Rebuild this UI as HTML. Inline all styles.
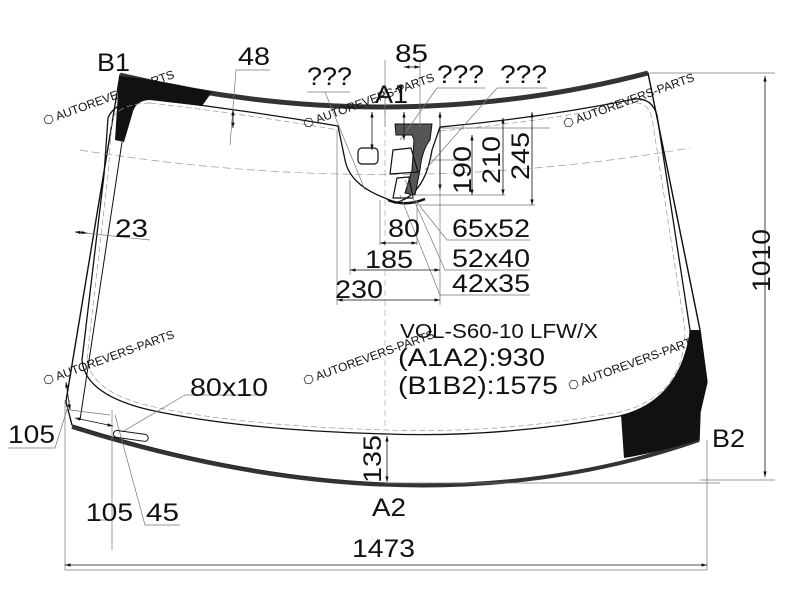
<!DOCTYPE html>
<html><head><meta charset="utf-8"><style>
html,body{margin:0;padding:0;background:#fff}
svg{display:block}
text{font-family:"Liberation Sans",sans-serif;fill:#111}
.w{fill:#8cc8ea;font-size:12px}
</style></head><body>
<svg width="800" height="600" viewBox="0 0 800 600" xmlns="http://www.w3.org/2000/svg">
<defs>
<marker id="a" viewBox="0 0 10 10" refX="10" refY="5" markerWidth="7" markerHeight="7" orient="auto-start-reverse"><path d="M0,2 L10,5 L0,8z" fill="#111"/></marker>
</defs>
<g fill="none" stroke="#111">
<path d="M120,75 Q390,140 648,73 L700,330 L707,382 L700,412 L699,440 Q420,535 72,425 L66,402 L67,395 Z" stroke-width="1.4"/>
<path d="M120,75 Q390,140 648,73" stroke="#333" stroke-width="5"/>
<path d="M72,427 Q420,537 699,440" stroke="#333" stroke-width="4"/>
<path d="M119,76 Q160,80 212,92 L202,106 L150,100 Q135,100 132,115 L124,142 L115,140 Z" fill="#111" stroke="none"/>
<path d="M690,330 L700,330 L707,382 L700,412 L699,440 Q660,452 624,458 L621,415 Q680,400 690,330 Z" fill="#111" stroke="none"/>
<path d="M150,99 Q245,110 338,126 L345,160 Q350,185 385,198 L395,203 Q425,195 432,150 L440,127 Q540,118 635,99 Q652,98 657,115 L690,330 Q690,400 620,416 Q500,438 387,434 Q240,430 150,410 Q85,395 82,360 L104,175 L108,118 Q115,100 150,99 Z" stroke-width="1.3"/>
<path d="M150,103 Q245,114 338,130 M440,131 Q540,122 635,103 Q648,102 652,118 L685,330 Q685,396 620,412 Q500,434 387,430 Q240,426 150,406 Q90,392 87,358 L108,175 L112,120 Q118,104 150,103" stroke="#999" stroke-width="0.7" stroke-dasharray="6,3"/>
<path d="M80,150 Q390,200 690,148" stroke="#999" stroke-width="0.7" stroke-dasharray="8,4"/>
<path d="M385,100 L385,430" stroke="#aaa" stroke-width="0.7" stroke-dasharray="6,4"/>
<path d="M122,142 L80,420" stroke-width="1"/>
<path d="M395,124 L432,124 L430,140 Q422,150 420,170 L415,195 L405,193 L412,170 L414,140 L412,135 L396,135 Z" fill="#555" stroke-width="1"/>
<rect x="358" y="148" width="20" height="16" rx="4" stroke-width="1.2"/>
<path d="M393,150 L411,148 L418,172 L390,174 Z" stroke-width="1.2" stroke-linejoin="round"/>
<path d="M397,178 L409,177 L413,198 L393,198 Z" stroke-width="1.2" stroke-linejoin="round"/>
<path d="M388,200 Q405,207 425,199" stroke-width="2.5"/>
<path d="M648,73 L700,330" stroke-width="1"/>
<g stroke="#777" stroke-width="0.7">
<path d="M65,400 L65,570 M707,440 L707,570 M650,73 L775,73 M700,480 L775,480"/>
<path d="M236,70 L270,70 M236,70 L230,145"/>
<path d="M307,92 L350,92 M325,92 L365,190"/>
<path d="M437,88 L485,88 M437,88 L400,140"/>
<path d="M497,88 L547,88 M497,88 L425,170"/>
<path d="M385,60 L385,127 M420,60 L420,127"/>
<path d="M440,128 L550,128 M430,160 L470,160 M420,205 L535,205 M415,195 L505,195"/>
<path d="M415,200 L447,240 L530,240 M405,180 L445,270 L530,270 M400,195 L440,295 L530,295"/>
<path d="M380,200 L380,245 M417,200 L417,245"/>
<path d="M350,180 L350,275 M440,130 L440,305 M337,130 L337,305"/>
<path d="M75,232 L150,240"/>
<path d="M8,448 L55,448 L70,400"/>
<path d="M70,410 L110,415 M112,410 L112,550 M87,520 L112,520"/>
<path d="M115,415 L145,525 L180,525 M185,395 L265,395 M185,395 L122,432"/>
<path d="M385,483 L720,483"/>
<path d="M65,570 L707,570"/>
</g>
<g stroke="#111" stroke-width="0.8" marker-start="url(#a)" marker-end="url(#a)">
<path d="M65,565 L707,565"/>
<path d="M765,76 L765,477"/>
<path d="M387,436 L387,482"/>
<path d="M350,270 L440,270"/>
<path d="M337,300 L440,300"/>
<path d="M380,243 L417,243"/>
<path d="M404,67 L420,67"/>
<path d="M372,112 L372,150"/>
<path d="M404,112 L404,140"/>
<path d="M440,112 L440,190"/>
<path d="M472,135 L472,195"/>
<path d="M503,118 L503,195"/>
<path d="M532,112 L532,205"/>
<path d="M233,110 L233,128"/>
<path d="M75,232 L87,233"/>
<path d="M66,382 L70,410"/>
<path d="M75,418 L113,426"/>
</g>
<rect x="114" y="430" width="35" height="7" rx="3.5" transform="rotate(8 114 430)" stroke-width="1"/>
</g>
<g class="w">
<text transform="translate(45,125) rotate(-20)">⬡ AUTOREVERS-PARTS</text>
<text transform="translate(305,128) rotate(-20)">⬡ AUTOREVERS-PARTS</text>
<text transform="translate(565,128) rotate(-20)">⬡ AUTOREVERS-PARTS</text>
<text transform="translate(45,385) rotate(-20)">⬡ AUTOREVERS-PARTS</text>
<text transform="translate(305,385) rotate(-20)">⬡ AUTOREVERS-PARTS</text>
<text transform="translate(570,390) rotate(-20)">⬡ AUTOREVERS-PARTS</text>
</g>
<g font-size="25" lengthAdjust="spacingAndGlyphs">
<text x="97" y="71" textLength="33" lengthAdjust="spacingAndGlyphs">B1</text>
<text x="238" y="65" textLength="32" lengthAdjust="spacingAndGlyphs">48</text>
<text x="307" y="85" textLength="45" lengthAdjust="spacingAndGlyphs">???</text>
<text x="395" y="62" textLength="33" lengthAdjust="spacingAndGlyphs">85</text>
<text x="375" y="103" textLength="33" lengthAdjust="spacingAndGlyphs">A1</text>
<text x="437" y="83" textLength="47" lengthAdjust="spacingAndGlyphs">???</text>
<text x="500" y="83" textLength="47" lengthAdjust="spacingAndGlyphs">???</text>
<text x="115" y="237" textLength="33" lengthAdjust="spacingAndGlyphs">23</text>
<text x="388" y="237" textLength="32" lengthAdjust="spacingAndGlyphs">80</text>
<text x="452" y="237" textLength="78" lengthAdjust="spacingAndGlyphs">65x52</text>
<text x="365" y="268" textLength="48" lengthAdjust="spacingAndGlyphs">185</text>
<text x="452" y="267" textLength="78" lengthAdjust="spacingAndGlyphs">52x40</text>
<text x="335" y="298" textLength="48" lengthAdjust="spacingAndGlyphs">230</text>
<text x="452" y="292" textLength="78" lengthAdjust="spacingAndGlyphs">42x35</text>
<text x="398" y="366" textLength="147" lengthAdjust="spacingAndGlyphs">(A1A2):930</text>
<text x="398" y="394" textLength="160" lengthAdjust="spacingAndGlyphs">(B1B2):1575</text>
<text x="190" y="396" textLength="78" lengthAdjust="spacingAndGlyphs">80x10</text>
<text x="8" y="443" textLength="47" lengthAdjust="spacingAndGlyphs">105</text>
<text x="712" y="447" textLength="33" lengthAdjust="spacingAndGlyphs">B2</text>
<text x="372" y="516" textLength="34" lengthAdjust="spacingAndGlyphs">A2</text>
<text x="86" y="521" textLength="47" lengthAdjust="spacingAndGlyphs">105</text>
<text x="146" y="521" textLength="33" lengthAdjust="spacingAndGlyphs">45</text>
<text x="352" y="557" textLength="63" lengthAdjust="spacingAndGlyphs">1473</text>
<text transform="translate(471,194) rotate(-90)" textLength="48" lengthAdjust="spacingAndGlyphs">190</text>
<text transform="translate(500,184) rotate(-90)" textLength="48" lengthAdjust="spacingAndGlyphs">210</text>
<text transform="translate(529,180) rotate(-90)" textLength="48" lengthAdjust="spacingAndGlyphs">245</text>
<text transform="translate(381,483) rotate(-90)" textLength="48" lengthAdjust="spacingAndGlyphs">135</text>
<text transform="translate(770,292) rotate(-90)" textLength="63" lengthAdjust="spacingAndGlyphs">1010</text>
</g>
<text x="400" y="338" font-size="20" textLength="198" lengthAdjust="spacingAndGlyphs">VOL-S60-10 LFW/X</text>
</svg>
</body></html>
